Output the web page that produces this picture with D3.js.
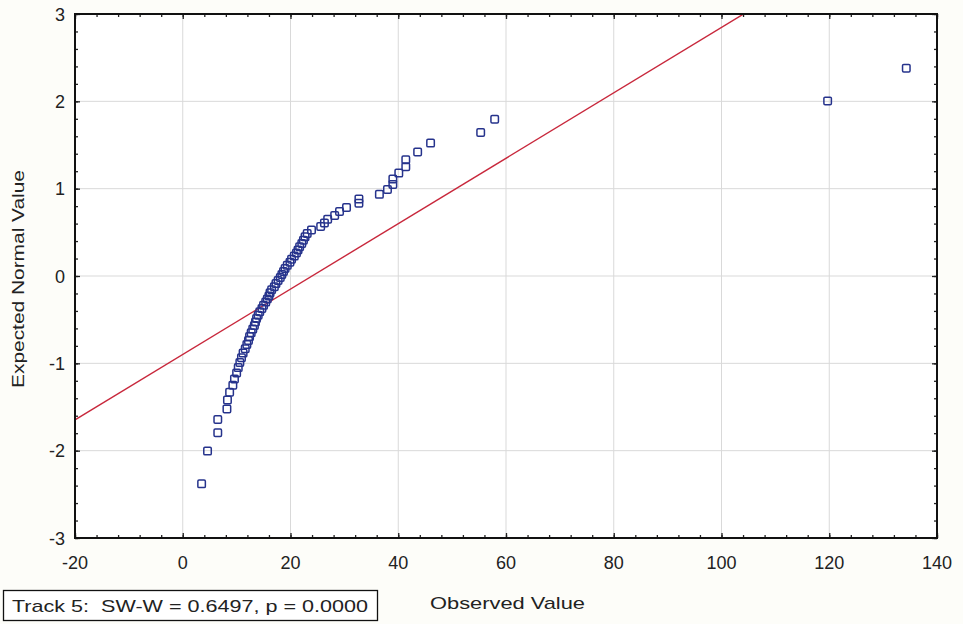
<!DOCTYPE html>
<html>
<head>
<meta charset="utf-8">
<script src="https://cdn.jsdelivr.net/npm/d3@7"></script>
<style>
  body { margin: 0; background: #fdfdf9; }
  svg { display: block; font-family: "Liberation Sans", Arial, sans-serif; }
</style>
</head>
<body>
<div id="chart"></div>
<script>
let observed = [3.5, 4.6, 6.5, 6.5, 8.2, 8.3, 8.7, 9.3, 9.6, 10.0,
  10.3, 10.6, 10.9, 11.2, 11.6, 11.9, 12.2, 12.4, 12.7, 13.0,
  13.3, 13.5, 13.7, 14.0, 14.3, 14.7, 15.0, 15.4, 15.7, 16.0,
  16.2, 16.5, 17.0, 17.3, 17.7, 18.1, 18.4, 18.7, 19.0, 19.4,
  19.9, 20.2, 20.7, 21.1, 21.4, 21.7, 22.1, 22.4, 22.7, 23.1,
  23.9, 25.6, 26.3, 26.9, 28.2, 29.1, 30.4, 32.7, 32.7, 36.5,
  38.0, 39.0, 39.0, 40.1, 41.4, 41.4, 43.6, 46.0, 55.3, 57.9,
  119.7, 134.3];
let expected = [-2.38, -2.005, -1.795, -1.643, -1.522, -1.42, -1.331, -1.251, -1.178, -1.111,
  -1.049, -0.991, -0.935, -0.883, -0.833, -0.785, -0.738, -0.694, -0.65, -0.608,
  -0.567, -0.526, -0.487, -0.448, -0.41, -0.372, -0.336, -0.299, -0.263, -0.228,
  -0.193, -0.157, -0.122, -0.087, -0.052, -0.017, 0.017, 0.052, 0.087, 0.122,
  0.157, 0.193, 0.228, 0.263, 0.299, 0.336, 0.372, 0.41, 0.448, 0.487,
  0.526, 0.567, 0.608, 0.65, 0.694, 0.738, 0.785, 0.833, 0.883, 0.935,
  0.991, 1.049, 1.111, 1.178, 1.251, 1.331, 1.42, 1.522, 1.643, 1.795,
  2.005, 2.38];

// fitted normal reference line (mean, sd)
let lineMean = 24, lineSd = 26.7;

let xTicks = [-20, 0, 20, 40, 60, 80, 100, 120, 140];
let yTicks = [-3, -2, -1, 0, 1, 2, 3];

let statText = "Track 5:  SW-W = 0.6497, p = 0.0000";
let xTitle = "Observed Value", yTitle = "Expected Normal Value";

let width = 963, height = 624;
let margin = { top: 14, right: 26, bottom: 86, left: 75 };
let iw = width - margin.left - margin.right, ih = height - margin.top - margin.bottom;

let x = d3.scaleLinear().domain([-20, 140]).range([0, iw]),
  y = d3.scaleLinear().domain([-3, 3]).range([ih, 0]);

const svg = d3.select("#chart").append("svg")
  .attr("width", width).attr("height", height);

const focus = svg.append("g")
  .attr("transform", "translate(" + margin.left + "," + margin.top + ")");

focus.append("rect").attr("width", iw).attr("height", ih).attr("fill", "#fff");

// grid
focus.append("g").selectAll("line").data(xTicks.slice(1, -1)).join("line")
  .attr("x1", d => x(d)).attr("x2", d => x(d)).attr("y1", 0).attr("y2", ih)
  .attr("stroke", "#d9d9d9");
focus.append("g").selectAll("line").data(yTicks.slice(1, -1)).join("line")
  .attr("y1", d => y(d)).attr("y2", d => y(d)).attr("x1", 0).attr("x2", iw)
  .attr("stroke", "#d9d9d9");

// inward ticks on all four sides
const xMinor = d3.range(-20, 140.01, 4), yMinor = d3.range(-3, 3.001, 0.2);
const tickAxis = (axis, scale, vals, size) => axis(scale).tickValues(vals).tickSize(size).tickFormat("");
focus.append("g").attr("transform", "translate(0," + ih + ")").call(tickAxis(d3.axisTop, x, xMinor, 3));
focus.append("g").call(tickAxis(d3.axisBottom, x, xMinor, 3));
focus.append("g").call(tickAxis(d3.axisRight, y, yMinor, 3));
focus.append("g").attr("transform", "translate(" + iw + ",0)").call(tickAxis(d3.axisLeft, y, yMinor, 3));
focus.append("g").attr("transform", "translate(0," + ih + ")").call(tickAxis(d3.axisTop, x, xTicks, 5));
focus.append("g").call(tickAxis(d3.axisBottom, x, xTicks, 5));
focus.append("g").call(tickAxis(d3.axisRight, y, yTicks, 5));
focus.append("g").attr("transform", "translate(" + iw + ",0)").call(tickAxis(d3.axisLeft, y, yTicks, 5));
focus.selectAll(".domain").remove();
focus.selectAll(".tick line").attr("stroke", "#222").attr("stroke-width", 1.3);

// reference line, clipped to plot area
svg.append("clipPath").attr("id", "clip").append("rect").attr("width", iw).attr("height", ih);
const lineX = [-20, 140];
focus.append("line")
  .attr("clip-path", "url(#clip)")
  .attr("x1", x(lineX[0])).attr("y1", y((lineX[0] - lineMean) / lineSd))
  .attr("x2", x(lineX[1])).attr("y2", y((lineX[1] - lineMean) / lineSd))
  .attr("stroke", "#c8283c").attr("stroke-width", 1.4);

// points
const s = 7.5;
focus.append("g").selectAll("rect")
  .data(observed.map((v, i) => [v, expected[i]]))
  .join("rect")
  .attr("x", d => x(d[0]) - s / 2).attr("y", d => y(d[1]) - s / 2)
  .attr("width", s).attr("height", s).attr("rx", 1.2)
  .attr("fill", "none").attr("stroke", "#26338c").attr("stroke-width", 1.5);

// frame
focus.append("rect").attr("width", iw).attr("height", ih)
  .attr("fill", "none").attr("stroke", "#111").attr("stroke-width", 2);

// tick labels
svg.append("g").selectAll("text").data(xTicks).join("text")
  .attr("x", d => margin.left + x(d)).attr("y", margin.top + ih + 31)
  .attr("text-anchor", "middle").attr("font-size", 18).attr("fill", "#222")
  .text(d => d);
svg.append("g").selectAll("text").data(yTicks).join("text")
  .attr("x", margin.left - 10).attr("y", d => margin.top + y(d) + 6.5)
  .attr("text-anchor", "end").attr("font-size", 18).attr("fill", "#222")
  .text(d => d);

// axis titles (source font is wide, stretch to match)
svg.append("text")
  .attr("x", 430).attr("y", 609)
  .attr("font-size", 17).attr("fill", "#222")
  .attr("textLength", 155).attr("lengthAdjust", "spacingAndGlyphs")
  .text(xTitle);
svg.append("text")
  .attr("transform", "translate(24,388) rotate(-90)")
  .attr("font-size", 17).attr("fill", "#222")
  .attr("textLength", 218).attr("lengthAdjust", "spacingAndGlyphs")
  .text(yTitle);

// stats box
svg.append("rect").attr("x", 3.5).attr("y", 590.5).attr("width", 374).attr("height", 30)
  .attr("fill", "#fff").attr("stroke", "#111").attr("stroke-width", 1.3);
svg.append("text").attr("x", 12).attr("y", 612)
  .attr("font-size", 17).attr("fill", "#222").attr("xml:space", "preserve")
  .attr("textLength", 356).attr("lengthAdjust", "spacingAndGlyphs")
  .text(statText);
</script>
</body>
</html>
